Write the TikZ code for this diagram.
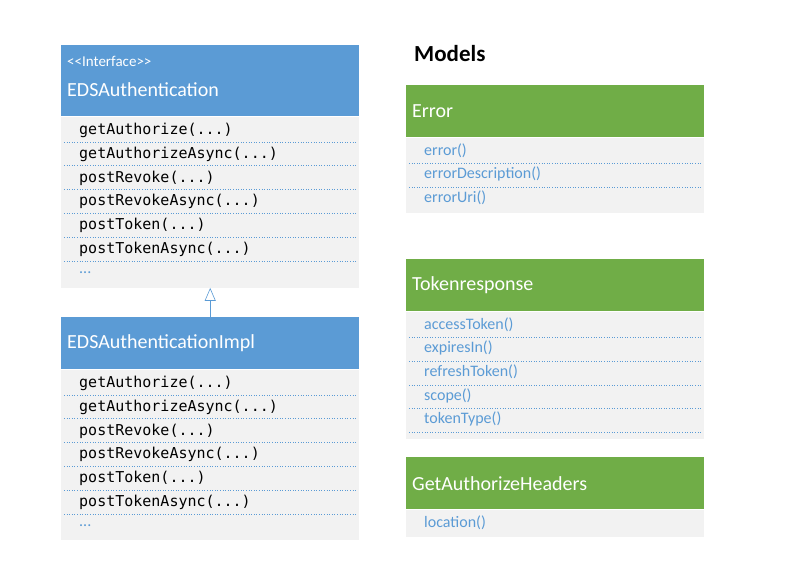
\documentclass[tikz,border=0pt]{standalone}
\usepackage{fontspec}
\setmainfont{Carlito}
\newfontfamily\codefont{DejaVu Sans Mono}
\usetikzlibrary{arrows.meta, positioning}
\definecolor{umlBlue}{HTML}{5B9BD5}
\definecolor{umlGreen}{HTML}{70AD47}
\definecolor{umlBody}{HTML}{F2F2F2}
\definecolor{umlLink}{HTML}{5B9BD5}
\newcommand{\argdots}{(...)}

\begin{document}
\begin{tikzpicture}[
    x=1pt, y=-1pt,
    ihead/.style={rectangle, fill=umlBlue, minimum width=298pt, inner sep=0pt,
                  anchor=north west},
    mhead/.style={rectangle, fill=umlGreen, minimum width=298pt, minimum height=52pt,
                  inner sep=0pt, anchor=north west},
    body/.style={rectangle, fill=umlBody, minimum width=298pt, inner sep=0pt},
    title/.style={anchor=west, text=white, font=\fontsize{20}{24}\selectfont, inner sep=0pt},
    code/.style={anchor=west, font=\codefont\fontsize{15}{18}\selectfont, inner sep=0pt},
    member/.style={anchor=west, text=umlLink, font=\fontsize{16}{19}\selectfont, inner sep=0pt},
    sep/.style={umlLink, line width=0.6pt, dotted},
  ]
    \useasboundingbox (0,0) rectangle (798,572);

    % interface
    \node[ihead, minimum height=71pt] (hAuth) at (61,45) {};
    \node[anchor=west, text=white, font=\fontsize{15}{18}\selectfont, inner sep=0pt]
      (stereo) at ([xshift=6pt, yshift=-16pt]hAuth.north west)
      {<\kern0pt<Interface>\kern0pt>};
    \node[title] (tAuth) at ([xshift=6pt, yshift=-45pt]hAuth.north west) {EDSAuthentication};
    \node[body, below=0pt of hAuth, minimum height=171pt] (bAuth) {};

    % implementation
    \node[ihead, minimum height=52pt] (hImpl) at (61,317) {};
    \node[title] (tImpl) at ([xshift=6pt]hImpl.west) {EDSAuthenticationImpl};
    \node[body, below=0pt of hImpl, minimum height=170pt] (bImpl) {};

    \foreach \cls in {Auth, Impl}{
      \foreach \name [count=\i from 0] in {getAuthorize, getAuthorizeAsync,
          postRevoke, postRevokeAsync, postToken, postTokenAsync}{
        \node[code] (\cls r\i) at ([xshift=18pt, yshift=-14pt-23.8pt*\i]b\cls.north west) {\name\argdots};
        \draw[sep] ([xshift=3pt, yshift=-25.5pt-23.8pt*\i]b\cls.north west)
          -- ([xshift=-2pt, yshift=-25.5pt-23.8pt*\i]b\cls.north east);
      }
      \node[member] (\cls more) at ([xshift=18pt, yshift=-13pt-23.8pt*6]b\cls.north west) {...};
    }

    \draw[umlBlue, line width=0.6pt, -{Triangle[open, width=11pt, length=13pt]}]
      (hImpl.north) -- (bAuth.south);

    % models
    \node[anchor=west, font=\bfseries\fontsize{23}{27}\selectfont, inner sep=0pt]
      (models) at (414,54) {Models};

    \node[mhead] (hErr) at (406,85) {};
    \node[title] (tErr) at ([xshift=6pt]hErr.west) {Error};
    \node[body, below=0pt of hErr, minimum height=75pt] (bErr) {};
    \foreach \name [count=\i from 0] in {error(), errorDescription(), errorUri()}{
      \node[member] (err\i) at ([xshift=18pt, yshift=-13pt-23.8pt*\i]bErr.north west) {\name};
    }
    \foreach \i in {0,1}{
      \draw[sep] ([xshift=3pt, yshift=-26pt-23.5pt*\i]bErr.north west)
        -- ([xshift=-2pt, yshift=-26pt-23.5pt*\i]bErr.north east);
    }

    \node[mhead] (hTok) at (406,259) {};
    \node[title] (tTok) at ([xshift=6pt]hTok.west) {Tokenresponse};
    \node[body, below=0pt of hTok, minimum height=127pt] (bTok) {};
    \foreach \name [count=\i from 0] in {accessToken(), expiresIn(), refreshToken(),
        scope(), tokenType()}{
      \node[member] (tok\i) at ([xshift=18pt, yshift=-13pt-23.7pt*\i]bTok.north west) {\name};
      \draw[sep] ([xshift=3pt, yshift=-26pt-23.7pt*\i]bTok.north west)
        -- ([xshift=-2pt, yshift=-26pt-23.7pt*\i]bTok.north east);
    }

    \node[mhead] (hHdr) at (406,457) {};
    \node[title] (tHdr) at ([xshift=6pt]hHdr.west) {GetAuthorizeHeaders};
    \node[body, below=0pt of hHdr, minimum height=27pt] (bHdr) {};
    \node[member] (hdr0) at ([xshift=18pt, yshift=-13pt]bHdr.north west) {location()};
  \end{tikzpicture}
\end{document}
